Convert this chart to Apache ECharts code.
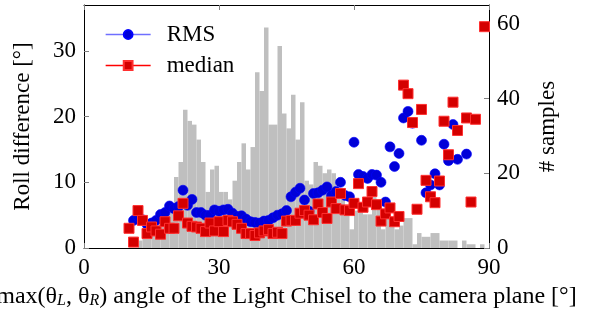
<!DOCTYPE html>
<html>
<head>
<meta charset="utf-8">
<script src="https://cdn.jsdelivr.net/npm/echarts@6/dist/echarts.min.js"></script>
<style>
  html, body { margin: 0; padding: 0; background: #fff; }
  #chart { width: 598px; height: 322px; }
</style>
</head>
<body>
<div id="chart"></div>
<script>
// angle bins (degrees), one marker per bin
var angles = [];
for (var a = 10; a <= 89; a++) angles.push(a);

// RMS roll difference per bin (10..89)
var rmsValues = [
  null, 4.2, 4.8, 4.3, 3.6, 3.8, 4.2, 5.1, 5.4, 6.4,
  6.0, 6.3, 8.8, 6.5, 7.4, 5.4, 5.4, 5.0, 5.0, 5.8,
  5.6, 5.8, 5.9, 5.3, 4.8, 4.9, 4.4, 4.0, 3.9, 3.8,
  4.1, 4.2, 4.6, 5.0, 5.2, 5.7, 7.8, 8.5, 9.1, 7.3,
  5.6, 8.3, 8.4, 8.8, 9.3, 8.0, 8.6, 10.0, 8.0, 7.8,
  16.1, 11.2, 10.9, 10.6, 11.2, 11.1, 10.0, 7.0, 15.4, 12.4,
  14.4, 19.8, 20.8, 19.0, null, 16.4, 8.4, 9.6, 11.3, 9.6,
  15.8, 13.3, 18.8, 13.5, null, 14.3, null, null, null, null
];

// median roll difference per bin (10..89)
var medianValues = [
  3.0, 0.9, 5.7, 4.2, 2.2, 3.2, 2.6, 2.1, 4.0, 3.0,
  3.0, 4.9, 6.8, 3.8, 3.3, 3.2, 3.0, 2.5, 3.8, 2.6,
  4.0, 2.5, 4.2, 4.0, 3.6, 3.0, 2.2, 2.2, 1.9, 2.3,
  2.6, 2.8, 2.2, 2.4, 2.2, 4.1, 4.2, 4.2, 5.3, 5.7,
  5.0, 4.3, 6.7, 5.4, 4.5, 7.0, 6.0, 8.3, 5.8, 5.7,
  6.8, 9.8, 6.2, 7.0, 8.6, 6.6, 4.1, 5.2, 6.1, 4.0,
  4.8, 24.8, 23.5, 19.1, 5.9, 21.1, 10.3, 7.8, 6.9, 10.2,
  19.3, 14.2, 22.2, 17.9, null, 19.8, 7.0, 19.6, null, 33.7
];

// number of samples per 1-degree bin (10..89)
var sampleCounts = [
  0, 0, 2, 4, 5, 7, 6, 8, 9, 11,
  19, 23, 37, 34, 33, 29, 23, 15, 21, 22,
  15, 15, 13, 18, 23, 28, 21, 27, 47, 42,
  59, 33, 33, 54, 36, 32, 41, 29, 39, 18,
  17, 23, 22, 20, 21, 20, 15, 13, 11, 5,
  10, 10, 9, 9, 14, 12, 5, 8, 8, 5,
  6, 8, 8, 1, 4, 3, 3, 4, 4, 2,
  2, 2, 2, 0, 2, 1, 1, 0, 1, 0
];

var xTicks = ['0', '30', '60', '90'];

function pairs(xs, ys) {
  return xs.map(function (x, i) { return [x, ys[i]]; });
}

var FONT = 'Liberation Serif';
var TICK = '#808080';

var chart = echarts.init(document.getElementById('chart'), null, { renderer: 'canvas' });

var option = {
  animation: false,
  grid: { left: 84, right: 109, top: 5, bottom: 74, containLabel: false, outerBoundsMode: 'none' },
  legend: {
    left: 105, top: 23, orient: 'vertical',
    padding: 0, itemWidth: 45, itemHeight: 11, itemGap: 8,
    textStyle: { fontFamily: FONT, fontSize: 23, color: '#000', padding: [0, 0, 0, 11] },
    data: [
      { name: 'RMS', lineStyle: { color: '#6f6fff', width: 1.3, opacity: 1 } },
      { name: 'median', lineStyle: { color: '#ff0000', width: 1.3, opacity: 1 } }
    ]
  },
  xAxis: [{
    type: 'value', min: 0, max: 90, interval: 30, position: 'bottom',
    name: '{n|max(θ}{s|L}{n|, θ}{s|R}{n|) angle of the Light Chisel to the camera plane [°]}',
    nameLocation: 'middle', nameGap: 37,
    nameTextStyle: {
      rich: {
        n: { fontFamily: FONT, fontSize: 24, color: '#000' },
        s: { fontFamily: FONT, fontSize: 16, fontStyle: 'italic', color: '#000', verticalAlign: 'bottom', padding: [8, 0, 0, 0] }
      }
    },
    axisLine: { onZero: false, lineStyle: { color: '#000', width: 1 } },
    axisTick: { inside: true, length: 5, lineStyle: { color: TICK } },
    axisLabel: {
      fontFamily: FONT, fontSize: 23, color: '#000', margin: 8,
      formatter: function (v) { return xTicks.indexOf(String(v)) >= 0 ? String(v) : ''; }
    },
    splitLine: { show: false }
  }, {
    type: 'value', min: 0, max: 90, interval: 30, position: 'top',
    axisLine: { onZero: false, lineStyle: { color: '#000', width: 1 } },
    axisTick: { inside: true, length: 5, lineStyle: { color: TICK } },
    axisLabel: { show: false },
    splitLine: { show: false }
  }],
  yAxis: [{
    type: 'value', min: 0, max: 37, interval: 10, position: 'left',
    name: 'Roll difference [°]', nameLocation: 'middle', nameGap: 50,
    nameTextStyle: { fontFamily: FONT, fontSize: 23, color: '#000' },
    axisLine: { show: true, onZero: false, lineStyle: { color: '#000', width: 1 } },
    axisTick: { show: true, inside: true, length: 5, lineStyle: { color: TICK } },
    axisLabel: { fontFamily: FONT, fontSize: 23, color: '#000', margin: 8, showMaxLabel: false },
    splitLine: { show: false }
  }, {
    type: 'value', min: 0, max: 65, interval: 20, position: 'right',
    name: '# samples', nameLocation: 'middle', nameGap: 47,
    nameTextStyle: { fontFamily: FONT, fontSize: 23, color: '#000' },
    axisLine: { show: true, onZero: false, lineStyle: { color: '#000', width: 1 } },
    axisTick: { show: true, inside: true, length: 5, lineStyle: { color: TICK } },
    axisLabel: { fontFamily: FONT, fontSize: 23, color: '#000', margin: 8, showMaxLabel: false },
    splitLine: { show: false }
  }],
  series: [{
    name: 'samples', type: 'custom', xAxisIndex: 0, yAxisIndex: 1,
    encode: { x: 0, y: 1 },
    data: pairs(angles, sampleCounts),
    renderItem: function (params, api) {
      var x0 = api.value(0), h = api.value(1);
      var p0 = api.coord([x0, 0]);
      var p1 = api.coord([x0 + 1, h]);
      return {
        type: 'rect',
        shape: { x: p0[0], y: p1[1], width: p1[0] - p0[0], height: p0[1] - p1[1] },
        style: { fill: '#bfbfbf' }
      };
    },
    z: 1
  }, {
    name: 'RMS', type: 'line', xAxisIndex: 0, yAxisIndex: 0,
    data: pairs(angles, rmsValues),
    showSymbol: true, showAllSymbol: true,
    symbol: 'circle', symbolSize: 10,
    lineStyle: { width: 0, opacity: 0 },
    itemStyle: { color: '#0000d8', borderColor: '#0000ff', borderWidth: 0.6 },
    z: 3
  }, {
    name: 'median', type: 'line', xAxisIndex: 0, yAxisIndex: 0,
    data: pairs(angles, medianValues),
    showSymbol: true, showAllSymbol: true,
    symbol: 'rect', symbolSize: 10,
    lineStyle: { width: 0, opacity: 0 },
    itemStyle: { color: '#d40000', borderColor: '#ff3030', borderWidth: 1 },
    z: 4
  }]
};

chart.setOption(option);
</script>
</body>
</html>
